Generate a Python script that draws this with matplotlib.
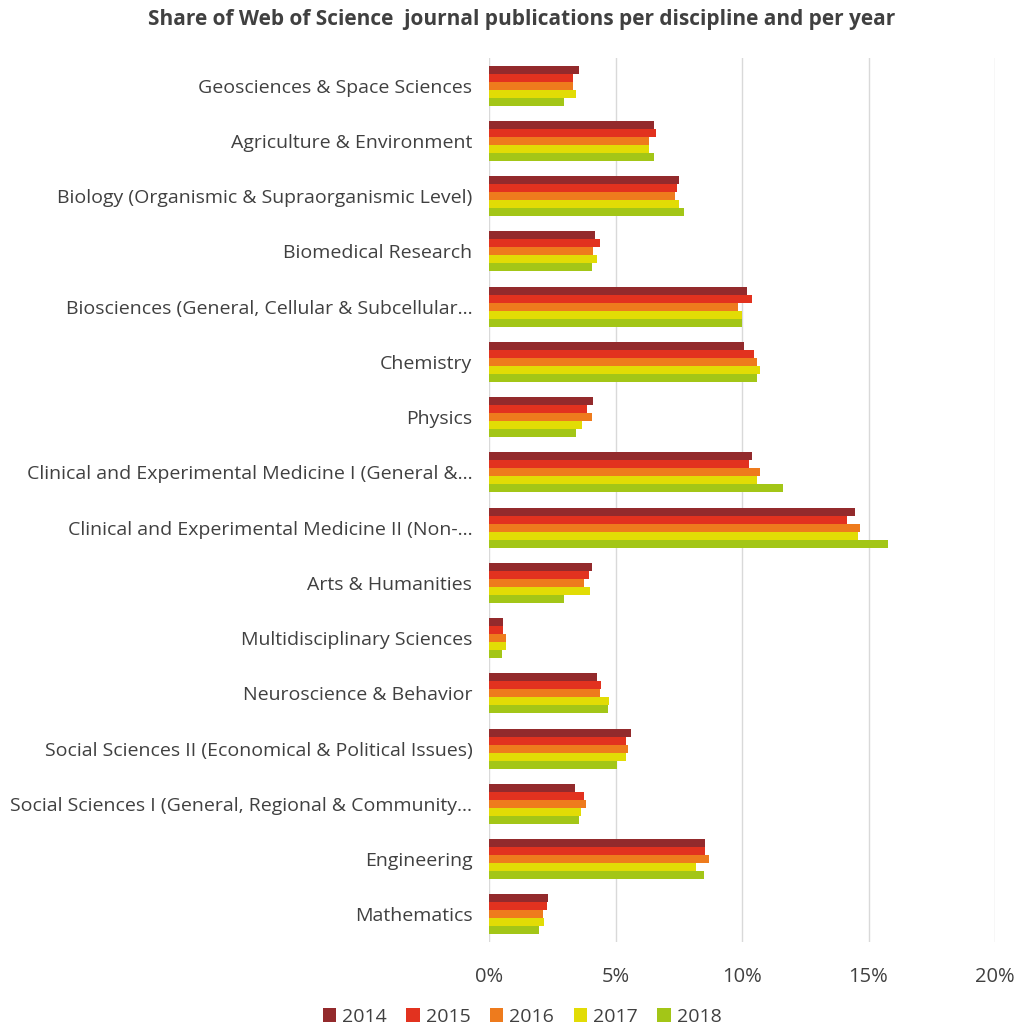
import matplotlib.pyplot as plt
import numpy as np

categories = [
    "Geosciences & Space Sciences",
    "Agriculture & Environment",
    "Biology (Organismic & Supraorganismic Level)",
    "Biomedical Research",
    "Biosciences (General, Cellular & Subcellular\u2026",
    "Chemistry",
    "Physics",
    "Clinical and Experimental Medicine I (General &\u2026",
    "Clinical and Experimental Medicine II (Non-\u2026",
    "Arts & Humanities",
    "Multidisciplinary Sciences",
    "Neuroscience & Behavior",
    "Social Sciences II (Economical & Political Issues)",
    "Social Sciences I (General, Regional & Community\u2026",
    "Engineering",
    "Mathematics",
]
years = ["2014", "2015", "2016", "2017", "2018"]

# share of publications, %
v2014 = [3.57, 6.52, 7.51, 4.19, 10.21, 10.09, 4.12, 10.40, 14.47, 4.07, 0.57, 4.26, 5.61, 3.39, 8.55, 2.34]
v2015 = [3.33, 6.59, 7.44, 4.37, 10.40, 10.46, 3.87, 10.28, 14.16, 3.94, 0.57, 4.44, 5.43, 3.75, 8.55, 2.28]
v2016 = [3.33, 6.34, 7.34, 4.12, 9.84, 10.58, 4.07, 10.71, 14.65, 3.75, 0.67, 4.37, 5.48, 3.82, 8.68, 2.14]
v2017 = [3.45, 6.34, 7.51, 4.26, 9.99, 10.71, 3.69, 10.58, 14.60, 4.00, 0.67, 4.74, 5.43, 3.64, 8.18, 2.16]
v2018 = [2.96, 6.52, 7.69, 4.07, 9.99, 10.58, 3.45, 11.62, 15.76, 2.96, 0.50, 4.69, 5.06, 3.57, 8.50, 1.98]
series = [v2014, v2015, v2016, v2017, v2018]
colors = ["#932A2C", "#E2321F", "#EE7B1D", "#E2DC05", "#A3C617"]

plt.rcParams["font.family"] = ["Open Sans", "DejaVu Sans"]

fig = plt.figure(figsize=(10.23, 10.27), dpi=100)
ax = fig.add_axes([489 / 1023, 1 - 942 / 1027, 506 / 1023, 884 / 1027])

y = np.arange(len(categories))
h = 0.145
for i, (vals, c) in enumerate(zip(series, colors)):
    ax.barh(y + (i - 2) * h, vals, height=h, color=c, label=years[i], zorder=3)

ax.set_xlim(0, 20)
ax.set_ylim(len(categories) - 0.5, -0.5)
ax.set_xticks([0, 5, 10, 15, 20])
ax.set_xticklabels(["0%", "5%", "10%", "15%", "20%"])
ax.set_yticks(y)
ax.set_yticklabels(categories)
ax.grid(axis="x", color="#D9D9D9", linewidth=1, zorder=0)
for s in ax.spines.values():
    s.set_visible(False)
ax.tick_params(axis="both", length=0, labelcolor="#404040")
ax.tick_params(axis="y", labelsize=14, pad=12)
ax.tick_params(axis="x", labelsize=14.5, pad=18)

fig.text(522 / 1023, 1 - 20 / 1027, "Share of Web of Science  journal publications per discipline and per year",
         ha="center", va="center", fontsize=15, fontweight="bold", color="#404040")

fig.legend(loc="center", bbox_to_anchor=(522 / 1023, 1 - 1017 / 1027), ncol=5, frameon=False,
           fontsize=14, handlelength=0.7, handleheight=0.7, handletextpad=0.3, columnspacing=1.0,
           labelcolor="#404040")

fig.savefig("out.png", dpi=100)
